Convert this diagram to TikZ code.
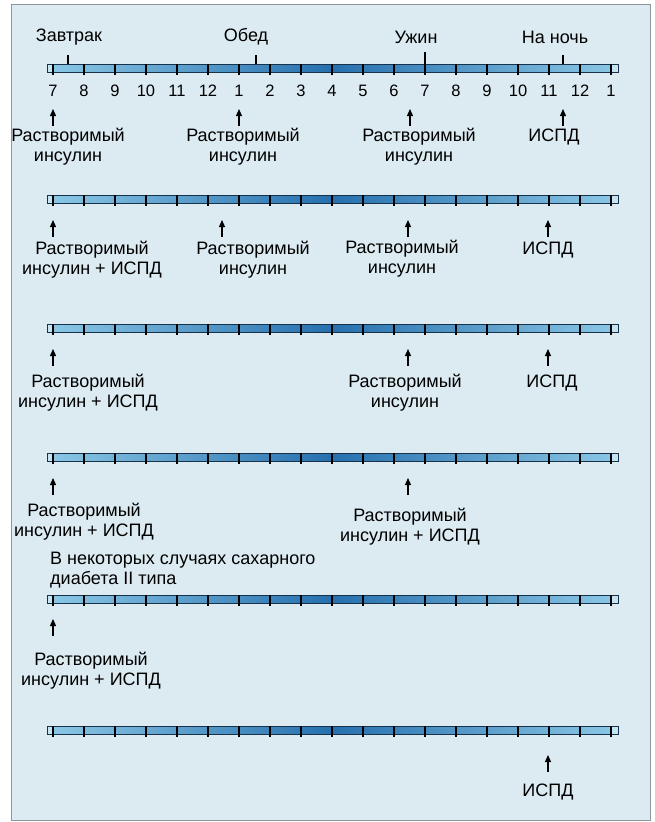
\documentclass[tikz,border=0pt]{standalone}
\usepackage{fontspec}
\setmainfont{Liberation Sans}
\usetikzlibrary{arrows.meta}
\definecolor{panelblue}{RGB}{220,235,242}
\definecolor{framegray}{RGB}{140,150,158}
\definecolor{barlight}{RGB}{140,200,230}
\definecolor{bardark}{RGB}{38,112,175}
\definecolor{baredge}{RGB}{25,50,75}

% one day scale: 19 hour ticks, #1 = name of its left end, #2 = y
\newcommand{\daybar}[2]{%
  \shadedraw[left color=barlight, right color=barlight, middle color=bardark,
    draw=baredge, line width=0.7pt] (47,#2-4) rectangle (618,#2+4);
  \draw[baredge, fill=barlight!50!white, line width=0.6pt] (47,#2-4) rectangle (53,#2+4);
  \draw[baredge, fill=barlight!50!white, line width=0.6pt] (611,#2-4) rectangle (618,#2+4);
  \foreach \i in {0,...,18}
    \draw[line width=1.2pt] (53+31*\i,#2-4) -- (53+31*\i,#2+7);
  \coordinate (#1) at (53,#2);
}

\begin{document}
\begin{tikzpicture}[x=1pt, y=-1pt,
  txt/.style={font=\fontsize{18}{20}\selectfont, align=center, inner sep=0pt},
  hour/.style={font=\fontsize{16.5}{18}\selectfont, inner sep=0pt},
  insarrow/.style={-{Triangle[length=7pt, width=6pt]}, line width=1.2pt},
  mealtick/.style={line width=1.2pt}]

  \useasboundingbox (0,0) rectangle (655,822);
  \fill[white] (0,0) rectangle (655,822);
  \draw[framegray, fill=panelblue, line width=0.8pt] (11,4) rectangle (650,820);

  % Row 1: three injections of soluble insulin + ISPD at night
  \daybar{bar1}{68}
  \foreach \h [count=\i from 0] in {7,8,9,10,11,12,1,2,3,4,5,6,7,8,9,10,11,12,1}
    \node[hour] (h\i) at (53+31*\i,91) {\h};

  \node[txt] (zavtrak) at (69,37) {Завтрак};
  \node[txt] (obed) at (246,37) {Обед};
  \node[txt] (uzhin) at (416,37) {Ужин};
  \node[txt] (nanoch) at (555,37) {На ночь};
  \draw[mealtick] (68,64) -- (68,55);
  \draw[mealtick] (256,64) -- (256,55);
  \draw[mealtick] (425,64) -- (425,52);
  \draw[mealtick] (563,64) -- (563,55);

  \coordinate (a1a) at (53,109);
  \coordinate (a1b) at (239,109);
  \coordinate (a1c) at (410,109);
  \coordinate (a1d) at (563,109);
  \node[txt] (s1a) at (68,147) {Растворимый\\инсулин};
  \node[txt] (s1b) at (243,147) {Растворимый\\инсулин};
  \node[txt] (s1c) at (419,147) {Растворимый\\инсулин};
  \node[txt] (s1d) at (554,137) {ИСПД};
  \foreach \a in {a1a,a1b,a1c,a1d}
    \draw[insarrow] ([yshift=-17pt]\a) -- (\a);

  % Row 2
  \daybar{bar2}{199}
  \coordinate (a2a) at (53,220);
  \coordinate (a2b) at (222,220);
  \coordinate (a2c) at (408,220);
  \coordinate (a2d) at (548,220);
  \node[txt] (s2a) at (92,260) {Растворимый\\инсулин + ИСПД};
  \node[txt] (s2b) at (253,260) {Растворимый\\инсулин};
  \node[txt] (s2c) at (402,259) {Растворимый\\инсулин};
  \node[txt] (s2d) at (548,250) {ИСПД};
  \foreach \a in {a2a,a2b,a2c,a2d}
    \draw[insarrow] ([yshift=-17pt]\a) -- (\a);

  % Row 3
  \daybar{bar3}{328}
  \coordinate (a3a) at (53,349);
  \coordinate (a3b) at (408,349);
  \coordinate (a3c) at (548,349);
  \node[txt] (s3a) at (88,393) {Растворимый\\инсулин + ИСПД};
  \node[txt] (s3b) at (405,393) {Растворимый\\инсулин};
  \node[txt] (s3c) at (552,383) {ИСПД};
  \foreach \a in {a3a,a3b,a3c}
    \draw[insarrow] ([yshift=-17pt]\a) -- (\a);

  % Row 4
  \daybar{bar4}{457}
  \coordinate (a4a) at (53,478);
  \coordinate (a4b) at (408,478);
  \node[txt] (s4a) at (84,522) {Растворимый\\инсулин + ИСПД};
  \node[txt] (s4b) at (410,527) {Растворимый\\инсулин + ИСПД};
  \foreach \a in {a4a,a4b}
    \draw[insarrow] ([yshift=-17pt]\a) -- (\a);

  % Row 5: type II diabetes
  \node[txt, align=left, anchor=west] (tip2) at (50,570)
    {В некоторых случаях сахарного\\диабета II типа};
  \daybar{bar5}{599}
  \coordinate (a5a) at (53,619);
  \node[txt] (s5a) at (91,671) {Растворимый\\инсулин + ИСПД};
  \draw[insarrow] ([yshift=-17pt]a5a) -- (a5a);

  % Row 6
  \daybar{bar6}{730}
  \coordinate (a6a) at (548,755);
  \node[txt] (s6a) at (548,792) {ИСПД};
  \draw[insarrow] ([yshift=-17pt]a6a) -- (a6a);
\end{tikzpicture}
\end{document}
